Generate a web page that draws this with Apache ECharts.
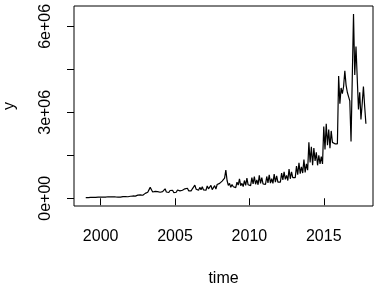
<!DOCTYPE html>
<html>
<head>
<meta charset="utf-8">
<script src="https://cdn.jsdelivr.net/npm/echarts@6/dist/echarts.min.js"></script>
<style>
  html, body { margin: 0; padding: 0; background: #fff; }
  #chart { width: 378px; height: 285px; }
</style>
</head>
<body>
<div id="chart"></div>
<script>
// monthly series, starting Jan 1999
var startYear = 1999;
var y1999 = [20000, 22000, 25000, 28000, 30000, 27000, 32000, 35000, 30000, 36000, 38000, 34000];
var y2000 = [40000, 36000, 42000, 48000, 40000, 45000, 52000, 44000, 50000, 58000, 48000, 55000];
var y2001 = [45000, 30000, 40000, 55000, 42000, 50000, 60000, 48000, 56000, 65000, 52000, 60000];
var y2002 = [70000, 62000, 80000, 95000, 75000, 90000, 110000, 85000, 120000, 140000, 105000, 150000];
var y2003 = [170000, 130000, 210000, 240000, 380000, 300000, 220000, 190000, 240000, 180000, 230000, 190000];
var y2004 = [210000, 170000, 230000, 200000, 330000, 220000, 260000, 200000, 270000, 210000, 280000, 200000];
var y2005 = [240000, 210000, 290000, 350000, 260000, 320000, 280000, 240000, 330000, 270000, 350000, 260000];
var y2006 = [290000, 260000, 330000, 300000, 460000, 320000, 360000, 280000, 380000, 300000, 400000, 290000];
var y2007 = [320000, 280000, 430000, 330000, 360000, 450000, 300000, 350000, 440000, 320000, 480000, 420000];
var y2008 = [520000, 460000, 600000, 560000, 700000, 980000, 620000, 450000, 520000, 380000, 480000, 400000];
var y2009 = [420000, 370000, 560000, 460000, 680000, 440000, 520000, 410000, 620000, 450000, 700000, 470000];
var y2010 = [520000, 440000, 720000, 500000, 760000, 490000, 640000, 470000, 800000, 520000, 720000, 500000];
var y2011 = [560000, 480000, 760000, 540000, 820000, 530000, 680000, 520000, 840000, 560000, 780000, 560000];
var y2012 = [600000, 560000, 880000, 640000, 920000, 660000, 800000, 620000, 1020000, 680000, 920000, 720000];
var y2013 = [780000, 720000, 1120000, 820000, 1240000, 860000, 1100000, 880000, 1350000, 900000, 1200000, 980000];
var y2014 = [1950000, 1250000, 1800000, 1150000, 1750000, 1300000, 1600000, 1150000, 1500000, 1200000, 1450000, 1200000];
var y2015 = [2500000, 1700000, 2600000, 1850000, 2400000, 1750000, 2350000, 1950000, 1900000, 1900000, 1920000, 1900000];
var y2016 = [4270000, 3300000, 3850000, 3650000, 3900000, 4450000, 3950000, 3700000, 3550000, 3400000, 1980000, 1950000];
var y2017 = [6430000, 4300000, 5300000, 4200000, 3100000, 3700000, 2750000, 3300000, 3900000, 3200000, 2600000];

var xTicks = [2000, 2005, 2010, 2015];
var yTicks = [0, 1500000, 3000000, 4500000, 6000000];
var yLabels = [0, 3000000, 6000000];

var values = [].concat(y1999, y2000, y2001, y2002, y2003, y2004, y2005, y2006, y2007,
  y2008, y2009, y2010, y2011, y2012, y2013, y2014, y2015, y2016, y2017);
var seriesData = values.map(function (v, i) { return [startYear + i / 12, v]; });

var font = { fontFamily: 'Liberation Sans', fontSize: 16, color: '#000' };

var myChart = echarts.init(document.getElementById('chart'));
var option = {
  animation: false,
  backgroundColor: '#fff',
  grid: {
    left: 74, right: 5, top: 6, bottom: 79,
    containLabel: false,
    outerBoundsMode: 'none',
    show: true, borderColor: '#000', borderWidth: 1
  },
  xAxis: {
    type: 'value',
    min: 1998.21,
    max: 2018.31,
    name: 'time',
    nameLocation: 'middle',
    nameGap: 65,
    nameTextStyle: font,
    axisLine: { show: false },
    axisTick: { show: true, length: 7, customValues: xTicks, lineStyle: { color: '#000' } },
    axisLabel: Object.assign({
      margin: 23,
      customValues: xTicks,
      formatter: function (v) { return String(v); }
    }, font),
    splitLine: { show: false }
  },
  yAxis: {
    type: 'value',
    min: -270000,
    max: 6710000,
    name: 'y',
    nameLocation: 'middle',
    nameRotate: 90,
    nameGap: 56,
    nameTextStyle: font,
    axisLine: { show: false },
    axisTick: { show: true, length: 7, customValues: yTicks, lineStyle: { color: '#000' } },
    axisLabel: Object.assign({
      margin: 20,
      rotate: 90,
      customValues: yLabels,
      formatter: function (v) { return v === 0 ? '0e+00' : (v / 1000000) + 'e+06'; }
    }, font),
    splitLine: { show: false }
  },
  series: [{
    type: 'line',
    data: seriesData,
    showSymbol: false,
    symbol: 'none',
    lineStyle: { color: '#000', width: 1.2 }
  }]
};
myChart.setOption(option);
</script>
</body>
</html>
